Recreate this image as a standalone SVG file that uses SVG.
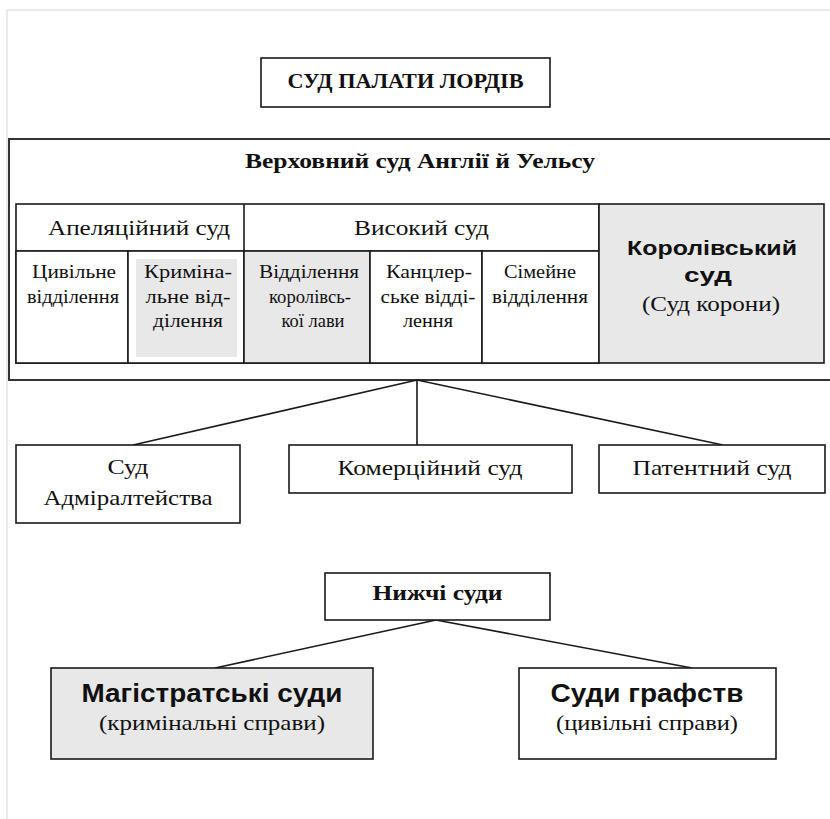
<svg xmlns="http://www.w3.org/2000/svg" width="830" height="819" viewBox="0 0 830 819">
<style>
.box{fill:#fff;stroke:#1a1a1a;stroke-width:1.6}
.gray{fill:#e8e8e8;stroke:#1a1a1a;stroke-width:1.6}
.ln{stroke:#1a1a1a;stroke-width:1.6;fill:none}
.s{font-family:"Liberation Serif","Times New Roman",serif;fill:#111;text-anchor:middle}
.b{font-weight:bold}
.a{font-family:"Liberation Sans",Arial,sans-serif;font-weight:bold;fill:#111;text-anchor:middle}
.cell{font-size:18.5px}
text{lengthAdjust:spacingAndGlyphs}
</style>
<rect x="7" y="10" width="830" height="820" fill="none" stroke="#d8d8d8" stroke-width="1"/>
<g id="lords">
<rect class="box" x="261" y="58" width="289" height="49"/>
<text class="s b" x="405.5" y="88" font-size="22" textLength="236" lengthAdjust="spacingAndGlyphs">СУД ПАЛАТИ ЛОРДІВ</text>
</g>
<g id="supreme">
<rect x="9" y="139" width="822" height="241" fill="#fff" stroke="#333" stroke-width="2"/>
<text class="s b" x="420" y="168" font-size="21" textLength="350" lengthAdjust="spacingAndGlyphs">Верховний суд Англії й Уельсу</text>
</g>
<g id="table">
<rect class="box" x="16" y="204" width="583" height="159"/>
<line class="ln" x1="16" y1="251" x2="599" y2="251"/>
<line class="ln" x1="244" y1="204" x2="244" y2="363"/>
</g>
<g id="appeal">
<text class="s" x="139" y="235" font-size="21" textLength="182" lengthAdjust="spacingAndGlyphs">Апеляційний суд</text>
</g>
<g id="high">
<text class="s" x="421.5" y="235" font-size="21" textLength="135" lengthAdjust="spacingAndGlyphs">Високий суд</text>
</g>
<g id="civil">
<rect class="box" x="16" y="251" width="112" height="112"/>
<text class="s cell" x="74" y="278" textLength="84" lengthAdjust="spacingAndGlyphs">Цивільне</text>
<text class="s cell" x="73" y="303" textLength="92" lengthAdjust="spacingAndGlyphs">відділення</text>
</g>
<g id="criminal">
<rect class="box" x="128" y="251" width="116" height="112"/>
<rect x="136" y="259" width="101" height="98" fill="#e8e8e8"/>
<text class="s cell" x="188" y="278" textLength="88" lengthAdjust="spacingAndGlyphs">Криміна-</text>
<text class="s cell" x="188" y="303" textLength="85" lengthAdjust="spacingAndGlyphs">льне від-</text>
<text class="s cell" x="188" y="327" textLength="70" lengthAdjust="spacingAndGlyphs">ділення</text>
</g>
<g id="kings-bench">
<rect class="gray" x="244" y="251" width="126" height="112"/>
<text class="s cell" x="309" y="278" textLength="100" lengthAdjust="spacingAndGlyphs">Відділення</text>
<text class="s cell" x="310" y="303" textLength="82" lengthAdjust="spacingAndGlyphs">королівсь-</text>
<text class="s cell" x="313" y="327" textLength="63" lengthAdjust="spacingAndGlyphs">кої лави</text>
</g>
<g id="chancery">
<rect class="box" x="370" y="251" width="112" height="112"/>
<text class="s cell" x="429" y="278" textLength="86" lengthAdjust="spacingAndGlyphs">Канцлер-</text>
<text class="s cell" x="428" y="303" textLength="95" lengthAdjust="spacingAndGlyphs">ське відді-</text>
<text class="s cell" x="428" y="327" textLength="50" lengthAdjust="spacingAndGlyphs">лення</text>
</g>
<g id="family">
<rect class="box" x="482" y="251" width="117" height="112"/>
<text class="s cell" x="540" y="278" textLength="72" lengthAdjust="spacingAndGlyphs">Сімейне</text>
<text class="s cell" x="540" y="303" textLength="96" lengthAdjust="spacingAndGlyphs">відділення</text>
</g>
<g id="crown">
<rect class="gray" x="599" y="204" width="225" height="159"/>
<text class="a" x="712" y="255" font-size="21" textLength="170" lengthAdjust="spacingAndGlyphs">Королівський</text>
<text class="a" x="708" y="282" font-size="21" textLength="48" lengthAdjust="spacingAndGlyphs">суд</text>
<text class="s" x="711" y="311" font-size="21" textLength="138" lengthAdjust="spacingAndGlyphs">(Суд корони)</text>
</g>
<g id="connectors">
<line class="ln" x1="417" y1="380" x2="133" y2="445"/>
<line class="ln" x1="417" y1="380" x2="417" y2="445"/>
<line class="ln" x1="417" y1="380" x2="723" y2="445"/>
<line class="ln" x1="436" y1="620" x2="215" y2="668"/>
<line class="ln" x1="436" y1="620" x2="692" y2="668"/>
</g>
<g id="admiralty">
<rect class="box" x="16" y="445" width="224" height="78"/>
<text class="s" x="128" y="474" font-size="21" textLength="41" lengthAdjust="spacingAndGlyphs">Суд</text>
<text class="s" x="128" y="505" font-size="21" textLength="169" lengthAdjust="spacingAndGlyphs">Адміралтейства</text>
</g>
<g id="commercial">
<rect class="box" x="289" y="445" width="283" height="48"/>
<text class="s" x="430" y="475" font-size="21" textLength="185" lengthAdjust="spacingAndGlyphs">Комерційний суд</text>
</g>
<g id="patent">
<rect class="box" x="599" y="445" width="226" height="48"/>
<text class="s" x="712" y="475" font-size="21" textLength="159" lengthAdjust="spacingAndGlyphs">Патентний суд</text>
</g>
<g id="lower">
<rect class="box" x="325" y="573" width="225" height="47"/>
<text class="s b" x="437.5" y="600" font-size="21" textLength="130" lengthAdjust="spacingAndGlyphs">Нижчі суди</text>
</g>
<g id="magistrates">
<rect class="gray" x="51" y="668" width="322" height="91"/>
<text class="a" x="212" y="702" font-size="25" textLength="261" lengthAdjust="spacingAndGlyphs">Магістратські суди</text>
<text class="s" x="212" y="730" font-size="22" textLength="226" lengthAdjust="spacingAndGlyphs">(кримінальні справи)</text>
</g>
<g id="county">
<rect class="box" x="519" y="668" width="257" height="91"/>
<text class="a" x="647" y="702" font-size="25" textLength="193" lengthAdjust="spacingAndGlyphs">Суди графств</text>
<text class="s" x="647" y="730" font-size="22" textLength="182" lengthAdjust="spacingAndGlyphs">(цивільні справи)</text>
</g>
</svg>
